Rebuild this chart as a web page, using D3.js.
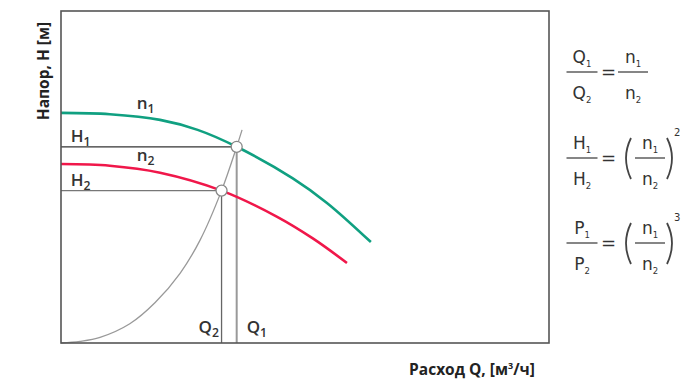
<!DOCTYPE html>
<html>
<head>
<meta charset="utf-8">
<script src="https://cdn.jsdelivr.net/npm/d3@7"></script>
<style>
  body { margin: 0; background: #fff; }
  svg { display: block; }
</style>
</head>
<body>
<script>
// pump curves at two speeds, system curve, values in % of chart range
const pumpN1 = [[0, 69.3], [10, 68.9], [20.3, 67.2], [28, 64.2], [36.0, 59.1], [47.5, 49.6], [54.5, 42.2], [63.5, 30.4]]
const pumpN2 = [[0, 53.9], [10, 53.4], [20.3, 51.3], [32.9, 45.9], [44.3, 38.0], [51.6, 31.5], [58.6, 24.1]]
const system = [[0, 0], [3.9, 0.5], [8.0, 1.7], [14.1, 5.8], [19.3, 12.2], [24.4, 21.0], [28.5, 31.0], [32.9, 45.9], [36.0, 59.1], [37.1, 64.2]]
const points = [{ q: 36.0, h: 59.1, n: '1' }, { q: 32.9, h: 45.9, n: '2' }]

const width = 700
const height = 383
const margin = { left: 61, top: 11, right: 151, bottom: 40 }

const x = d3.scaleLinear().domain([0, 100]).range([margin.left, width - margin.right])
const y = d3.scaleLinear().domain([0, 100]).range([height - margin.bottom, margin.top])

const svg = d3.select('body').append('svg')
  .attr('width', width)
  .attr('height', height)

const line = d3.line()
  .x(d => x(d[0]))
  .y(d => y(d[1]))
  .curve(d3.curveCatmullRom.alpha(0.5))

// H and Q guide lines
svg.selectAll('.hline')
  .data(points)
  .enter().append('line')
  .attr('x1', x(0)).attr('x2', d => x(d.q))
  .attr('y1', d => y(d.h)).attr('y2', d => y(d.h))
  .style('stroke', (d, i) => i === 0 ? '#333' : '#777')
  .style('stroke-width', 1.3)

svg.selectAll('.qline')
  .data(points)
  .enter().append('line')
  .attr('x1', d => x(d.q)).attr('x2', d => x(d.q))
  .attr('y1', d => y(d.h)).attr('y2', y(0))
  .style('stroke', (d, i) => i === 0 ? '#999' : '#666')
  .style('stroke-width', (d, i) => i === 0 ? 2 : 1.3)

svg.append('path')
  .datum(system)
  .attr('d', line)
  .style('fill', 'none')
  .style('stroke', '#999')
  .style('stroke-width', 1.3)

svg.append('path')
  .datum(pumpN1)
  .attr('d', line)
  .style('fill', 'none')
  .style('stroke', '#10a081')
  .style('stroke-width', 2.6)

svg.append('path')
  .datum(pumpN2)
  .attr('d', line)
  .style('fill', 'none')
  .style('stroke', '#f0174a')
  .style('stroke-width', 2.6)

svg.selectAll('.pt')
  .data(points)
  .enter().append('circle')
  .attr('cx', d => x(d.q))
  .attr('cy', d => y(d.h))
  .attr('r', 5.5)
  .style('fill', '#fff')
  .style('stroke', '#888')
  .style('stroke-width', 1.3)

// frame
svg.append('rect')
  .attr('x', x(0)).attr('y', y(100))
  .attr('width', x(100) - x(0)).attr('height', y(0) - y(100))
  .style('fill', 'none')
  .style('stroke', '#555')
  .style('stroke-width', 1.6)

const labelFont = '"Open Sans", sans-serif'

function sub (sel, main, idx, px, py, size, weight) {
  let t = sel.append('text')
    .attr('x', px).attr('y', py)
    .style('font-family', labelFont)
    .style('font-weight', weight)
    .style('font-size', size + 'px')
    .style('fill', '#333')
  t.append('tspan').text(main)
  t.append('tspan').attr('dy', size * 0.25).style('font-size', (size * 0.72) + 'px').text(idx)
}

// n labels on curves
sub(svg, 'n', '1', x(15.5), y(69.3) - 4, 17, 600)
sub(svg, 'n', '2', x(15.5), y(53.9) - 3, 17, 600)
// H labels
points.forEach(d => sub(svg, 'H', d.n, x(2.0), y(d.h) - 5, 17, 600))
// Q labels
sub(svg, 'Q', '2', x(points[1].q) - 23, y(0) - 10, 17, 600)
sub(svg, 'Q', '1', x(points[0].q) + 10, y(0) - 10, 17, 600)

// axis titles
svg.append('text')
  .attr('transform', 'translate(49,' + 71 + ') rotate(-90)')
  .attr('text-anchor', 'middle')
  .style('font-family', labelFont)
  .style('font-weight', 700)
  .style('font-size', '15.5px')
  .style('fill', '#222')
  .text('Напор, H [м]')

let xt = svg.append('text')
  .attr('x', 472).attr('y', 375)
  .attr('text-anchor', 'middle')
  .style('font-family', labelFont)
  .style('font-weight', 700)
  .style('font-size', '15.5px')
  .style('fill', '#222')
xt.append('tspan').text('Расход Q, [м')
xt.append('tspan').attr('dy', -6).style('font-size', '9px').text('3')
xt.append('tspan').attr('dy', 6).text('/ч]')

// affinity laws
const formulas = [
  { num: 'Q', den: 'Q', pow: null, y: 72 },
  { num: 'H', den: 'H', pow: '2', y: 158 },
  { num: 'P', den: 'P', pow: '3', y: 243 }
]
const fFont = '"DejaVu Sans", sans-serif'
const g = svg.append('g').style('fill', '#333')

function frac (top, bot, cx, cy, w) {
  g.append('line')
    .attr('x1', cx - w / 2).attr('x2', cx + w / 2)
    .attr('y1', cy).attr('y2', cy)
    .style('stroke', '#444').style('stroke-width', 1.3)
  ;[[top, cy - 9], [bot, cy + 27]].forEach(([s, yy]) => {
    let t = g.append('text')
      .attr('x', cx).attr('y', yy)
      .attr('text-anchor', 'middle')
      .style('font-family', fFont)
      .style('font-size', '17px')
    t.append('tspan').text(s[0])
    t.append('tspan').attr('dy', 4).style('font-size', '8.5px').text(s[1])
  })
}

formulas.forEach(f => {
  frac([f.num, '1'], [f.den, '2'], 582, f.y, 31)
  g.append('text')
    .attr('x', 608.5).attr('y', f.y + 6)
    .attr('text-anchor', 'middle')
    .style('font-family', fFont)
    .style('font-size', '18px')
    .text('=')
  if (f.pow === null) {
    frac(['n', '1'], ['n', '2'], 633, f.y, 30)
  } else {
    frac(['n', '1'], ['n', '2'], 650, f.y, 30)
    const top = f.y - 20
    const bot = f.y + 21
    g.append('path')
      .attr('d', `M631,${top} Q621,${f.y} 631,${bot}`)
      .style('fill', 'none').style('stroke', '#444').style('stroke-width', 1.8)
    g.append('path')
      .attr('d', `M667,${top} Q677,${f.y} 667,${bot}`)
      .style('fill', 'none').style('stroke', '#444').style('stroke-width', 1.8)
    g.append('text')
      .attr('x', 674).attr('y', f.y - 22)
      .style('font-family', fFont)
      .style('font-size', '10px')
      .text(f.pow)
  }
})
</script>
</body>
</html>
